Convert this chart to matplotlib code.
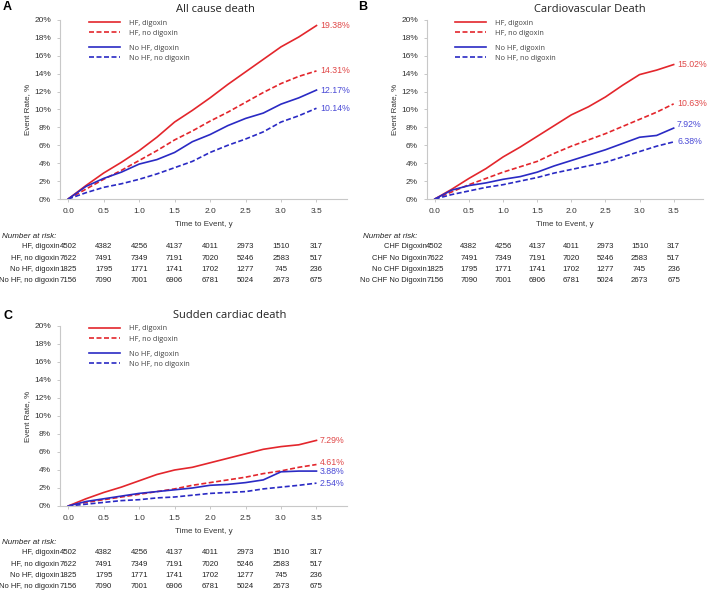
import numpy as np
import matplotlib.pyplot as plt
import matplotlib.transforms as mtransforms

plt.rcParams['font.family'] = ['Liberation Sans', 'DejaVu Sans']

# time grid (years)
t = [0, 0.25, 0.5, 0.75, 1.0, 1.25, 1.5, 1.75, 2.0, 2.25, 2.5, 2.75, 3.0, 3.25, 3.5]

# A: all cause death (event rate %)
a_hf_dig = [0, 1.5, 2.9, 4.1, 5.4, 6.9, 8.6, 9.9, 11.3, 12.8, 14.2, 15.6, 17.0, 18.1, 19.38]
a_hf_nodig = [0, 1.1, 2.2, 3.2, 4.3, 5.4, 6.6, 7.6, 8.7, 9.7, 10.8, 11.9, 12.9, 13.7, 14.31]
a_nohf_dig = [0, 1.4, 2.3, 3.0, 3.9, 4.4, 5.2, 6.4, 7.2, 8.2, 9.0, 9.6, 10.6, 11.3, 12.17]
a_nohf_nodig = [0, 0.7, 1.3, 1.7, 2.2, 2.8, 3.5, 4.2, 5.2, 6.0, 6.7, 7.5, 8.6, 9.3, 10.14]

# B: cardiovascular death
b_hf_dig = [0, 1.1, 2.3, 3.4, 4.7, 5.8, 7.0, 8.2, 9.4, 10.3, 11.4, 12.7, 13.9, 14.4, 15.02]
b_hf_nodig = [0, 0.8, 1.6, 2.3, 3.0, 3.6, 4.2, 5.1, 5.9, 6.6, 7.3, 8.1, 8.9, 9.7, 10.63]
b_nohf_dig = [0, 1.0, 1.5, 1.8, 2.2, 2.5, 3.0, 3.7, 4.3, 4.9, 5.5, 6.2, 6.9, 7.1, 7.92]
b_nohf_nodig = [0, 0.5, 0.9, 1.3, 1.6, 2.0, 2.4, 2.9, 3.3, 3.7, 4.1, 4.7, 5.3, 5.9, 6.38]

# C: sudden cardiac death
c_hf_dig = [0, 0.8, 1.5, 2.1, 2.8, 3.5, 4.0, 4.3, 4.8, 5.3, 5.8, 6.3, 6.6, 6.8, 7.29]
c_hf_nodig = [0, 0.4, 0.7, 1.0, 1.3, 1.6, 1.9, 2.3, 2.6, 2.9, 3.2, 3.6, 3.9, 4.3, 4.61]
c_nohf_dig = [0, 0.5, 0.8, 1.1, 1.4, 1.6, 1.8, 2.0, 2.3, 2.4, 2.6, 2.9, 3.8, 3.88, 3.88]
c_nohf_nodig = [0, 0.2, 0.4, 0.6, 0.7, 0.9, 1.0, 1.2, 1.4, 1.5, 1.6, 1.9, 2.1, 2.3, 2.54]

series_names = ['HF, digoxin', 'HF, no digoxin', 'No HF, digoxin', 'No HF, no digoxin']
end_labels_a = ['19.38%', '14.31%', '12.17%', '10.14%']
end_labels_b = ['15.02%', '10.63%', '7.92%', '6.38%']
end_labels_c = ['7.29%', '4.61%', '3.88%', '2.54%']

# number at risk
risk_times = [0, 0.5, 1.0, 1.5, 2.0, 2.5, 3.0, 3.5]
risk_hf_dig = [4502, 4382, 4256, 4137, 4011, 2973, 1510, 317]
risk_hf_nodig = [7622, 7491, 7349, 7191, 7020, 5246, 2583, 517]
risk_nohf_dig = [1825, 1795, 1771, 1741, 1702, 1277, 745, 236]
risk_nohf_nodig = [7156, 7090, 7001, 6906, 6781, 5024, 2673, 675]
risk_labels_ac = ['HF, digoxin', 'HF, no digoxin', 'No HF, digoxin', 'No HF, no digoxin']
risk_labels_b = ['CHF Digoxin', 'CHF No Digoxin', 'No CHF Digoxin', 'No CHF No Digoxin']

RED = '#e3262c'
BLUE = '#2a2ac4'
RED_TXT = '#e04848'
BLUE_TXT = '#4a4ad6'
GREY = '#c8c8c8'
W, H = 709, 591

fig = plt.figure(figsize=(7.09, 5.91), dpi=100)


def fy(py):
    return 1 - py / H


def panel(left, right, top, bottom, title, title_x, curves, labels, label_dy,
          risk_labels, risk_top, risk_hx, letter, letter_xy):
    ax = fig.add_axes([left / W, fy(bottom), (right - left) / W, (bottom - top) / H])
    styles = [(RED, '-'), (RED, '--'), (BLUE, '-'), (BLUE, '--')]
    handles = []
    for vals, (c, ls), name in zip(curves, styles, series_names):
        h, = ax.plot(t, vals, color=c, ls=ls, lw=1.2,
                     dashes=(3, 1.5) if ls == '--' else (None, None), label=name)
        handles.append(h)
    for vals, lab, (c, ls), dy in zip(curves, labels, styles, label_dy):
        ax.text(3.55, vals[-1] + dy, lab, color=RED_TXT if c == RED else BLUE_TXT,
                fontsize=6.3, va='center', ha='left')
    ax.set_xlim(-0.115, 3.93)
    ax.set_ylim(0, 20)
    ax.set_xticks(risk_times)
    ax.set_xticklabels(['%.1f' % v for v in risk_times])
    ax.set_yticks(range(0, 21, 2))
    ax.set_yticklabels(['%d%%' % v for v in range(0, 21, 2)])
    for s in ['top', 'right']:
        ax.spines[s].set_visible(False)
    for s in ['left', 'bottom']:
        ax.spines[s].set_color(GREY)
        ax.spines[s].set_linewidth(0.8)
    ax.tick_params(colors=GREY, labelcolor='#333333', labelsize=6, length=2.5, width=0.7, pad=4)
    ax.set_xlabel('Time to Event, y', fontsize=5.8, color='#333333', labelpad=4)
    ax.set_ylabel('Event Rate, %', fontsize=5.8, color='#333333', labelpad=2)
    ax.set_title(title, fontsize=8, family='Open Sans', color='#222222', pad=6, x=title_x)

    leg1 = ax.legend(handles=handles[:2], loc='upper left', bbox_to_anchor=(0.09, 1.02),
                     frameon=False, fontsize=5.3, handlelength=4.2, labelspacing=0.4,
                     handletextpad=1.3, borderaxespad=0)
    ax.add_artist(leg1)
    leg2 = ax.legend(handles=handles[2:], loc='upper left', bbox_to_anchor=(0.09, 0.88),
                     frameon=False, fontsize=5.3, handlelength=4.2, labelspacing=0.4,
                     handletextpad=1.3, borderaxespad=0)
    for leg in (leg1, leg2):
        for txt in leg.get_texts():
            txt.set_family('Open Sans')
            txt.set_color('#444444')

    tr = mtransforms.blended_transform_factory(ax.transData, fig.transFigure)
    fig.text(risk_hx / W, fy(risk_top - 11), 'Number at risk:', fontsize=5.8, style='italic',
             color='#222222', va='center', ha='left')
    rows = [risk_hf_dig, risk_hf_nodig, risk_nohf_dig, risk_nohf_nodig]
    for i, (row, lab) in enumerate(zip(rows, risk_labels)):
        yy = fy(risk_top + 11.2 * i)
        fig.text(-0.125, yy, lab, transform=tr, fontsize=5.4, ha='right', va='center', color='#222222')
        for x, n in zip(risk_times, row):
            fig.text(x, yy, str(n), transform=tr, fontsize=5.6, ha='center', va='center', color='#222222')
    fig.text(letter_xy[0] / W, fy(letter_xy[1]), letter, fontsize=9, fontweight='bold', va='center')
    return ax


panel(60, 347, 20, 199, 'All cause death', 0.54,
      [a_hf_dig, a_hf_nodig, a_nohf_dig, a_nohf_nodig], end_labels_a, [0, 0, 0, 0],
      risk_labels_ac, 247, 2, 'A', (3, 7))
panel(427, 703, 20, 199, 'Cardiovascular Death', 0.59,
      [b_hf_dig, b_hf_nodig, b_nohf_dig, b_nohf_nodig], end_labels_b, [0, 0, 0.35, 0],
      risk_labels_b, 247, 363, 'B', (358, 7))
panel(60, 347, 326, 506, 'Sudden cardiac death', 0.59,
      [c_hf_dig, c_hf_nodig, c_nohf_dig, c_nohf_nodig], end_labels_c, [0, 0.2, 0, 0],
      risk_labels_ac, 553, 2, 'C', (3, 316))

fig.savefig('out.png', dpi=100)
